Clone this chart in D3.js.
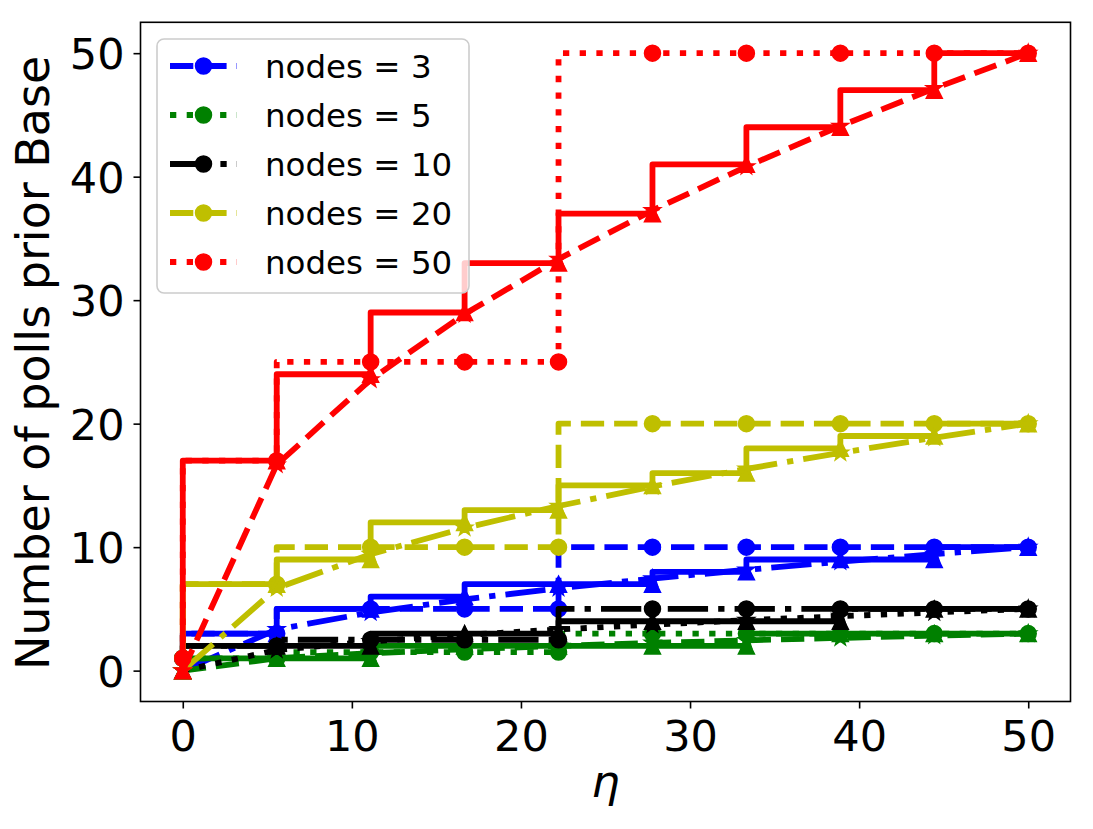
<!DOCTYPE html>
<html><head><meta charset="utf-8">
<script src="https://cdn.jsdelivr.net/npm/d3@7"></script>
<style>body{margin:0;background:#fff} svg{display:block} text{font-family:"DejaVu Sans",sans-serif;fill:#000}</style>
</head><body><svg id="c" width="1093" height="829"></svg>
<script>
// ---- data ----
const eta = [0, 5.556, 11.111, 16.667, 22.222, 27.778, 33.333, 38.889, 44.444, 50];
const nodeLabels = ["nodes = 3", "nodes = 5", "nodes = 10", "nodes = 20", "nodes = 50"];
const seriesColors = ["#0000ff", "#008000", "#000000", "#bfbf00", "#ff0000"];
// circle markers (stepped)
const priorBlue   = [1, 3, 5, 5, 5, 10, 10, 10, 10, 10];
const priorGreen  = [1, 1, 1.5, 1.5, 1.5, 3, 3, 3, 3, 3];
const priorBlack  = [1, 2, 2.5, 2.5, 2.5, 5, 5, 5, 5, 5];
const priorYellow = [1, 7, 10, 10, 10, 20, 20, 20, 20, 20];
const priorRed    = [1, 17, 25, 25, 25, 50, 50, 50, 50, 50];
// triangle markers (stepped, solid)
const stepBlue   = [0, 3, 5, 6, 7, 7, 8, 9, 9, 10];
const stepGreen  = [0, 1, 1, 2, 2, 2, 2, 3, 3, 3];
const stepBlack  = [0, 2, 2, 3, 3, 4, 4, 4, 5, 5];
const stepYellow = [0, 7, 9, 12, 13, 15, 16, 18, 19, 20];
const stepRed    = [0, 17, 24, 29, 33, 37, 41, 44, 47, 50];
// star markers (straight segments)
const curveBlue   = [0, 3.33, 4.71, 5.77, 6.67, 7.45, 8.16, 8.82, 9.43, 10];
const curveGreen  = [0, 1, 1.41, 1.73, 2, 2.24, 2.45, 2.65, 2.83, 3];
const curveBlack  = [0, 1.67, 2.36, 2.89, 3.33, 3.73, 4.08, 4.41, 4.71, 5];
const curveYellow = [0, 6.67, 9.43, 11.55, 13.33, 14.91, 16.33, 17.64, 18.86, 20];
const curveRed    = [0, 16.67, 23.57, 28.87, 33.33, 37.27, 40.82, 44.1, 47.14, 50];
const priorStyles = ["dashed", "dotted", "dashdot", "dashed", "dotted"];
const curveStyles = ["dashdot", "dashed", "dotted", "dashdot", "dashed"];
const xTicks = [0, 10, 20, 30, 40, 50];
const yTicks = [0, 10, 20, 30, 40, 50];
const xLabel = "η";
const yLabel = "Number of polls prior Base";

const priors = [priorBlue, priorGreen, priorBlack, priorYellow, priorRed];
const steps = [stepBlue, stepGreen, stepBlack, stepYellow, stepRed];
const curves = [curveBlue, curveGreen, curveBlack, curveYellow, curveRed];

// ---- layout ----
const svg = d3.select("#c");
const L = 140.5, R = 1070.5, T = 22.3, B = 701.5;
const x = d3.scaleLinear().domain([-2.5, 52.5]).range([L, R]);
const y = d3.scaleLinear().domain([-2.5, 52.5]).range([B, T]);
const LW = 5.8;
const dashes = {solid: null, dashed: "23.3,10", dotted: "6.3,10.4", dashdot: "40.3,10.1,6.3,10.1"};
const MS = 17;

svg.append("rect").attr("width", 1093).attr("height", 829).attr("fill", "#fff");
const clip = svg.append("defs").append("clipPath").attr("id", "pc");
clip.append("rect").attr("x", L).attr("y", T).attr("width", R - L).attr("height", B - T);
const plot = svg.append("g").attr("clip-path", "url(#pc)");

function trianglePath(s) { const h = s / 2; return `M0,${-h}L${h},${h}L${-h},${h}Z`; }
function starPath(s) {
  const ro = s / 2, ri = ro * 0.381966; let p = "";
  for (let k = 0; k < 10; k++) {
    const r = k % 2 ? ri : ro, a = Math.PI / 2 + k * Math.PI / 5;
    p += (k ? "L" : "M") + (r * Math.cos(a)).toFixed(2) + "," + (-r * Math.sin(a)).toFixed(2);
  }
  return p + "Z";
}

function drawSeries(vals, color, style, curve, marker) {
  const line = d3.line().x((d, i) => x(eta[i])).y(d => y(d)).curve(curve);
  plot.append("path").attr("d", line(vals)).attr("fill", "none")
    .attr("stroke", color).attr("stroke-width", LW)
    .attr("stroke-dasharray", dashes[style])
    .attr("stroke-linejoin", "round").attr("stroke-linecap", style === "solid" ? "square" : "butt");
  const g = plot.append("g");
  vals.forEach((v, i) => {
    const cx = x(eta[i]), cy = y(v);
    if (marker === "circle") {
      g.append("circle").attr("cx", cx).attr("cy", cy).attr("r", MS / 2 - 0.5)
        .attr("fill", color).attr("stroke", color).attr("stroke-width", 1.5);
    } else {
      g.append("path").attr("d", marker === "tri" ? trianglePath(MS - 1) : starPath(MS))
        .attr("transform", `translate(${cx},${cy})`)
        .attr("fill", color).attr("stroke", color).attr("stroke-width", 1.5).attr("stroke-linejoin", "miter");
    }
  });
}

for (let s = 0; s < 5; s++) {
  drawSeries(priors[s], seriesColors[s], priorStyles[s], d3.curveStepBefore, "circle");
  drawSeries(steps[s], seriesColors[s], "solid", d3.curveStepBefore, "tri");
  drawSeries(curves[s], seriesColors[s], curveStyles[s], d3.curveLinear, "star");
}

// ---- axes ----
const FS = 43;
const xAxis = d3.axisBottom(x).tickValues(xTicks).tickSize(7).tickPadding(7).tickFormat(d3.format("d"));
const gx = svg.append("g").attr("transform", `translate(0,${B})`).call(xAxis);
gx.select(".domain").remove();
gx.selectAll(".tick line").attr("stroke", "#000").attr("stroke-width", 1.6);
gx.selectAll(".tick text").attr("font-size", FS).attr("font-family", "DejaVu Sans").attr("dy", null).attr("y", 49.5);

const yAxis = d3.axisLeft(y).tickValues(yTicks).tickSize(7).tickPadding(9).tickFormat(d3.format("d"));
const gy = svg.append("g").attr("transform", `translate(${L},0)`).call(yAxis);
gy.select(".domain").remove();
gy.selectAll(".tick line").attr("stroke", "#000").attr("stroke-width", 1.6);
gy.selectAll(".tick text").attr("font-size", FS).attr("font-family", "DejaVu Sans").attr("dy", "0.36em");

svg.append("rect").attr("x", L).attr("y", T).attr("width", R - L).attr("height", B - T)
  .attr("fill", "none").attr("stroke", "#000").attr("stroke-width", 1.6);

svg.append("text").attr("x", (L + R) / 2).attr("y", 797).attr("text-anchor", "middle")
  .attr("font-size", 45).attr("font-style", "italic").text(xLabel);
svg.append("text").attr("transform", `translate(49,${(T + B) / 2 + 1}) rotate(-90)`)
  .attr("text-anchor", "middle").attr("font-size", 46).text(yLabel);

// ---- legend ----
const lg = svg.append("g");
lg.append("rect").attr("x", 157).attr("y", 39).attr("width", 312).attr("height", 254).attr("rx", 7)
  .attr("fill", "#fff").attr("fill-opacity", 0.8).attr("stroke", "#cccccc").attr("stroke-width", 1.6);
nodeLabels.forEach((lab, s) => {
  const cy = 66 + s * 49;
  lg.append("line").attr("x1", 170).attr("x2", 237).attr("y1", cy).attr("y2", cy)
    .attr("stroke", seriesColors[s]).attr("stroke-width", LW).attr("stroke-dasharray", dashes[priorStyles[s]]);
  lg.append("circle").attr("cx", 203.5).attr("cy", cy).attr("r", MS / 2 - 0.5)
    .attr("fill", seriesColors[s]).attr("stroke", seriesColors[s]).attr("stroke-width", 1.5);
  lg.append("text").attr("x", 265).attr("y", cy + 11.5).attr("font-size", 32.5).text(lab);
});
</script></body></html>
